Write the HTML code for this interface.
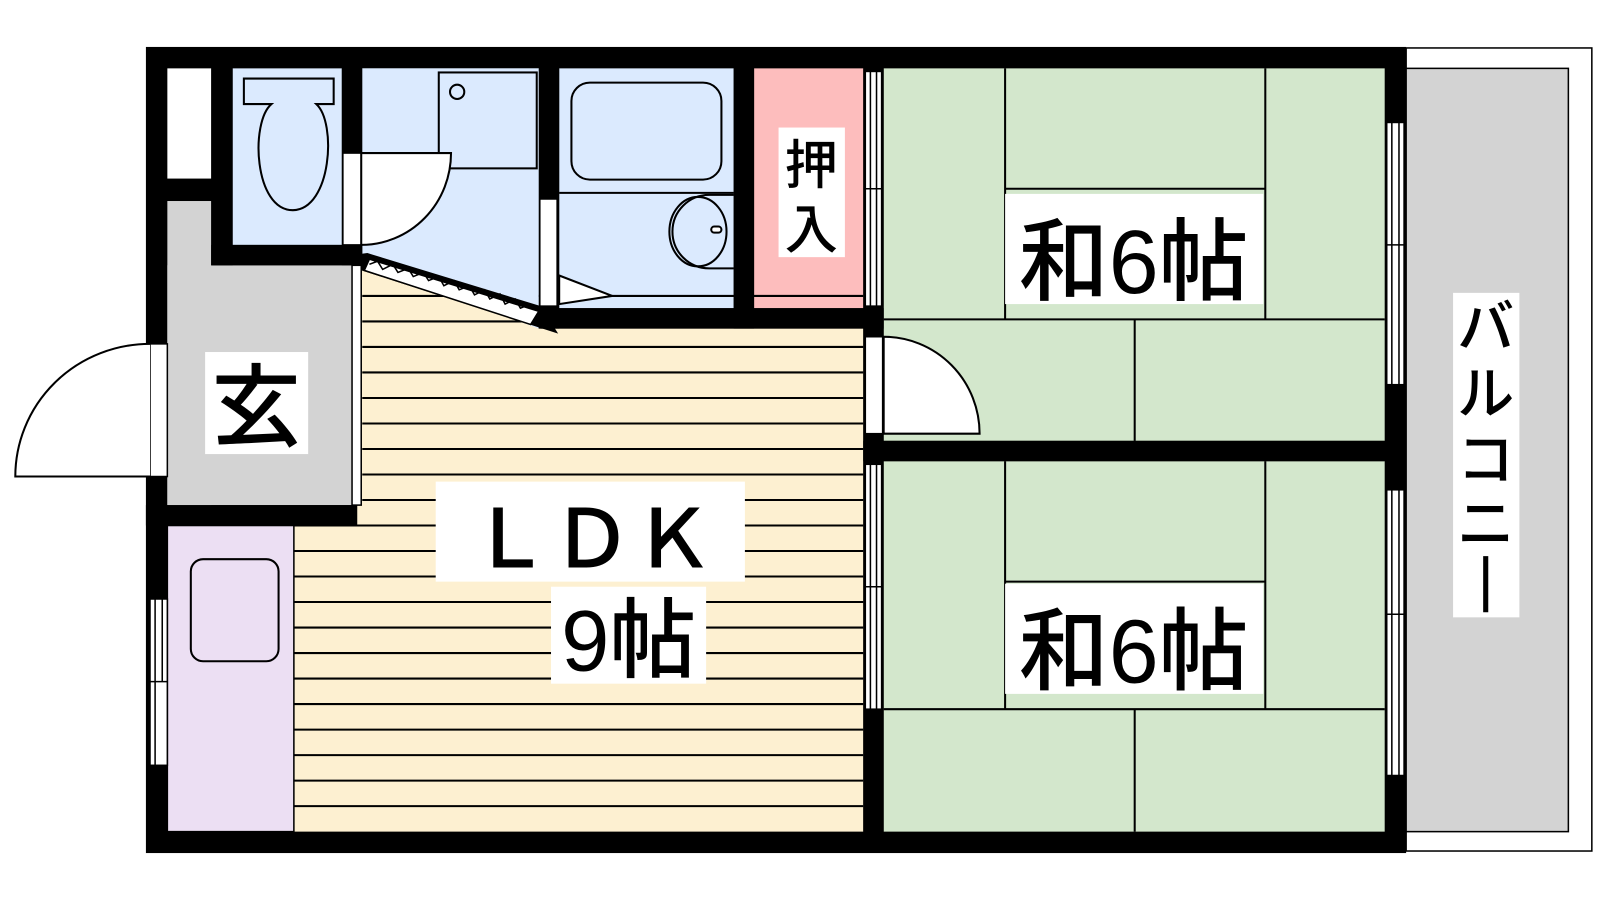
<!DOCTYPE html>
<html><head><meta charset="utf-8"><style>
html,body{margin:0;padding:0;background:#fff;width:1600px;height:900px;overflow:hidden}
text{font-family:"Liberation Sans","Noto Sans CJK JP",sans-serif;font-weight:500}
</style></head><body>
<svg width="1600" height="900" viewBox="0 0 1568 882" xmlns="http://www.w3.org/2000/svg">
<rect x="1378" y="47" width="182" height="787" fill="#fff" stroke="#000" stroke-width="1.5"/>
<rect x="1378" y="67" width="159" height="748" fill="#d3d3d3" stroke="#000" stroke-width="1.5"/>
<rect x="143" y="46" width="1235" height="790" fill="#000"/>
<rect x="164" y="67" width="43" height="108" fill="#fff"/>
<rect x="228" y="67" width="107" height="173" fill="#dbeafe"/>
<rect x="355" y="67" width="173" height="240" fill="#dbeafe"/>
<rect x="548" y="67" width="171" height="235" fill="#dbeafe"/>
<rect x="739" y="67" width="107" height="235" fill="#fdbdbd"/>
<rect x="164" y="197" width="43" height="298" fill="#d3d3d3"/>
<rect x="164" y="260" width="181" height="235" fill="#d3d3d3"/>
<polygon points="350,260 530,322 846,322 846,815 288,815 288,515 350,515" fill="#fdf0d1"/>
<g stroke="#000" stroke-width="2">
<line x1="355" y1="290" x2="846" y2="290"/><line x1="355" y1="315" x2="846" y2="315"/>
<line x1="355" y1="340" x2="846" y2="340"/><line x1="355" y1="365" x2="846" y2="365"/>
<line x1="355" y1="390" x2="846" y2="390"/><line x1="355" y1="415" x2="846" y2="415"/>
<line x1="355" y1="440" x2="846" y2="440"/><line x1="355" y1="465" x2="846" y2="465"/>
<line x1="355" y1="490" x2="846" y2="490"/><line x1="288" y1="515" x2="846" y2="515"/>
<line x1="288" y1="540" x2="846" y2="540"/><line x1="288" y1="565" x2="846" y2="565"/>
<line x1="288" y1="590" x2="846" y2="590"/><line x1="288" y1="615" x2="846" y2="615"/>
<line x1="288" y1="640" x2="846" y2="640"/><line x1="288" y1="665" x2="846" y2="665"/>
<line x1="288" y1="690" x2="846" y2="690"/><line x1="288" y1="715" x2="846" y2="715"/>
<line x1="288" y1="740" x2="846" y2="740"/><line x1="288" y1="765" x2="846" y2="765"/>
<line x1="288" y1="790" x2="846" y2="790"/>
</g>
<polygon points="355,67 528,67 528,322 355,258" fill="#dbeafe"/>
<rect x="164" y="515" width="124" height="300" fill="#ecdff3" stroke="#000" stroke-width="1.5"/>
<rect x="187" y="548" width="86" height="100" rx="12" fill="none" stroke="#000" stroke-width="2"/>
<rect x="143" y="495" width="207" height="20" fill="#000"/>
<rect x="866" y="67" width="491" height="365" fill="#d3e7cc"/>
<rect x="866" y="452" width="491" height="363" fill="#d3e7cc"/>
<g stroke="#000" stroke-width="2" fill="none">
<line x1="985" y1="67" x2="985" y2="313"/><line x1="1240" y1="67" x2="1240" y2="313"/>
<line x1="985" y1="185" x2="1240" y2="185"/><line x1="866" y1="313" x2="1357" y2="313"/>
<line x1="1112" y1="313" x2="1112" y2="432"/>
<line x1="985" y1="452" x2="985" y2="695"/><line x1="1240" y1="452" x2="1240" y2="695"/>
<line x1="985" y1="570" x2="1240" y2="570"/><line x1="866" y1="695" x2="1357" y2="695"/>
<line x1="1112" y1="695" x2="1112" y2="815"/>
</g>
<g stroke="#000" stroke-width="2" fill="none">
<rect x="560" y="81" width="147" height="95" rx="18"/>
<line x1="548" y1="189" x2="719" y2="189"/>
<path d="M719,191 H695 A35,35 0 0 0 695,263 H719"/>
<ellipse cx="684" cy="227" rx="28" ry="34"/>
<rect x="697" y="222" width="10" height="6" rx="3" fill="#fff"/>
<rect x="430" y="71" width="96" height="94"/>
<circle cx="448" cy="90" r="7"/>
<path d="M239,77 H327 V102 H310 C330,120 325,205 287,206 C249,206 245,120 266,102 H239 Z"/>
</g>
<rect x="207" y="67" width="21" height="193" fill="#000"/>
<rect x="207" y="240" width="148" height="20" fill="#000"/>
<rect x="335" y="67" width="20" height="193" fill="#000"/>
<rect x="528" y="67" width="20" height="255" fill="#000"/>
<rect x="719" y="67" width="20" height="255" fill="#000"/>
<rect x="528" y="302" width="338" height="20" fill="#000"/>
<rect x="846" y="67" width="20" height="748" fill="#000"/>
<rect x="846" y="432" width="511" height="20" fill="#000"/>
<rect x="336" y="150" width="18" height="90" fill="#fff" stroke="#000" stroke-width="1.5"/>
<path d="M354,150 H442 A88,90 0 0 1 354,240 Z" fill="#fff" stroke="#000" stroke-width="2"/>
<rect x="529" y="195" width="17" height="105" fill="#fff" stroke="#000" stroke-width="1.5"/>
<polygon points="548,270 600,290 548,298" fill="#fff" stroke="#000" stroke-width="2"/>
<polygon points="345,250 360,248 530,300 547,327 345,262" fill="#000"/>
<polygon points="362,254 528,305 520,318 357,265" fill="#fff" stroke="#000" stroke-width="1.5"/>
<polyline points="362,259 370,256 375,264 385,259 390,267 400,263 405,271 415,267 420,275 430,271 435,280 445,275 450,284 460,280 465,289 475,284 480,293 490,288 495,298 505,293 510,302 520,298" fill="none" stroke="#000" stroke-width="1.5"/>
<rect x="345" y="260" width="9" height="235" fill="#fff" stroke="#000" stroke-width="1.5"/>
<rect x="147" y="337" width="17" height="130" fill="#fff" stroke="#000" stroke-width="1.5"/>
<path d="M147,337 A132,130 0 0 0 15,467 H147" fill="#fff" stroke="#000" stroke-width="2"/>
<g fill="#fff" stroke="#000" stroke-width="1.5">
<rect x="147" y="587" width="17" height="163"/>
<line x1="152" y1="587" x2="152" y2="750"/><line x1="159" y1="587" x2="159" y2="668"/>
<line x1="147" y1="668" x2="164" y2="668"/>
<rect x="848" y="70" width="16" height="230"/>
<line x1="853" y1="70" x2="853" y2="300"/><line x1="859" y1="70" x2="859" y2="300"/>
<line x1="848" y1="185" x2="864" y2="185"/>
<rect x="848" y="455" width="16" height="240"/>
<line x1="853" y1="455" x2="853" y2="695"/><line x1="859" y1="455" x2="859" y2="695"/>
<line x1="848" y1="575" x2="864" y2="575"/>
<rect x="1359" y="120" width="17" height="257"/>
<line x1="1364" y1="120" x2="1364" y2="377"/><line x1="1371" y1="120" x2="1371" y2="377"/>
<line x1="1359" y1="240" x2="1376" y2="240"/>
<rect x="1359" y="480" width="17" height="280"/>
<line x1="1364" y1="480" x2="1364" y2="760"/><line x1="1371" y1="480" x2="1371" y2="760"/>
<line x1="1359" y1="602" x2="1376" y2="602"/>
</g>
<rect x="848" y="330" width="17" height="95" fill="#fff" stroke="#000" stroke-width="1.5"/>
<path d="M866,330 A94,95 0 0 1 960,425 H866 Z" fill="#fff" stroke="#000" stroke-width="2"/>
<rect x="201" y="345" width="101" height="100" fill="#fff"/>
<text x="251" y="430" font-size="88" text-anchor="middle">玄</text>
<rect x="763" y="125" width="65" height="127" fill="#fff"/>
<text x="795" y="180" font-size="52" text-anchor="middle">押</text>
<text x="795" y="243" font-size="52" text-anchor="middle">入</text>
<rect x="985" y="190" width="253" height="108" fill="#fff"/>
<text x="1111" y="287" font-size="88" text-anchor="middle">和6帖</text>
<rect x="985" y="572" width="253" height="108" fill="#fff"/>
<text x="1111" y="669" font-size="88" text-anchor="middle">和6帖</text>
<rect x="427" y="472" width="303" height="98" fill="#fff"/>
<text x="580" y="556" font-size="80" text-anchor="middle" font-weight="normal">ＬＤＫ</text>
<rect x="540" y="575" width="152" height="95" fill="#fff"/>
<text x="616" y="657" font-size="85" text-anchor="middle">9帖</text>
<rect x="1424" y="287" width="65" height="318" fill="#fff"/>
<text x="1456" y="340" font-size="56" text-anchor="middle">バ</text>
<text x="1456" y="405" font-size="56" text-anchor="middle">ル</text>
<text x="1456" y="470" font-size="56" text-anchor="middle">コ</text>
<text x="1456" y="533" font-size="56" text-anchor="middle">ニ</text>
<line x1="1456" y1="545" x2="1456" y2="600" stroke="#000" stroke-width="5"/>
</svg>
</body></html>
